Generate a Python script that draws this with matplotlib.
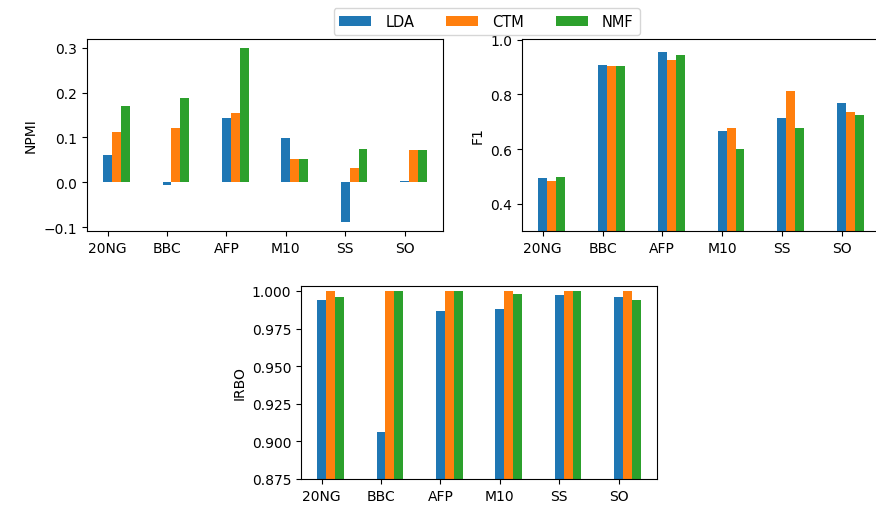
import numpy as np
import matplotlib.pyplot as plt

datasets = ['20NG', 'BBC', 'AFP', 'M10', 'SS', 'SO']
models = ['LDA', 'CTM', 'NMF']

# NPMI
npmi_lda = [0.062, -0.007, 0.144, 0.099, -0.089, 0.003]
npmi_ctm = [0.113, 0.120, 0.154, 0.052, 0.031, 0.072]
npmi_nmf = [0.169, 0.189, 0.300, 0.052, 0.075, 0.072]

# F1
f1_lda = [0.494, 0.909, 0.954, 0.667, 0.712, 0.768]
f1_ctm = [0.483, 0.904, 0.926, 0.677, 0.812, 0.735]
f1_nmf = [0.498, 0.904, 0.943, 0.599, 0.677, 0.724]

# IRBO
irbo_lda = [0.9942, 0.906, 0.987, 0.988, 0.997, 0.996]
irbo_ctm = [1.0, 1.0, 1.0, 1.0, 1.0, 1.0]
irbo_nmf = [0.996, 1.0, 1.0, 0.998, 1.0, 0.994]

colors = ['#1f77b4', '#ff7f0e', '#2ca02c']
w = 0.15
x = np.arange(len(datasets))

fig = plt.figure(figsize=(8.76, 5.06), dpi=100)
ax1 = fig.add_axes([0.0993, 0.5415, 0.4064, 0.3795])
ax2 = fig.add_axes([0.5959, 0.5415, 0.4090, 0.3795])
ax3 = fig.add_axes([0.3436, 0.0514, 0.4064, 0.3814])


def draw(ax, series, ylabel):
    bars = []
    for j, vals in enumerate(series):
        bars.append(ax.bar(x + j * w, vals, width=w, color=colors[j], label=models[j]))
    ax.set_xticks(x)
    ax.set_xticklabels(datasets)
    ax.set_ylabel(ylabel)
    return bars


bars = draw(ax1, [npmi_lda, npmi_ctm, npmi_nmf], 'NPMI')
ax1.set_yticks([-0.1, 0.0, 0.1, 0.2, 0.3])

draw(ax2, [f1_lda, f1_ctm, f1_nmf], 'F1')
ax2.set_ylim(0.3, 1.003)
ax2.set_yticks([0.4, 0.6, 0.8, 1.0])

draw(ax3, [irbo_lda, irbo_ctm, irbo_nmf], 'IRBO')
ax3.set_ylim(0.875, 1.0033)
ax3.set_yticks([0.875, 0.9, 0.925, 0.95, 0.975, 1.0])
ax3.set_yticklabels(['0.875', '0.900', '0.925', '0.950', '0.975', '1.000'])

fig.legend(handles=bars, labels=models, loc='upper center', ncol=3,
           bbox_to_anchor=(0.5554, 0.982), borderaxespad=0,
           handlelength=2.2, handletextpad=0.95, columnspacing=2.2,
           prop={'size': 10.5})

plt.savefig('out.png', dpi=100)
